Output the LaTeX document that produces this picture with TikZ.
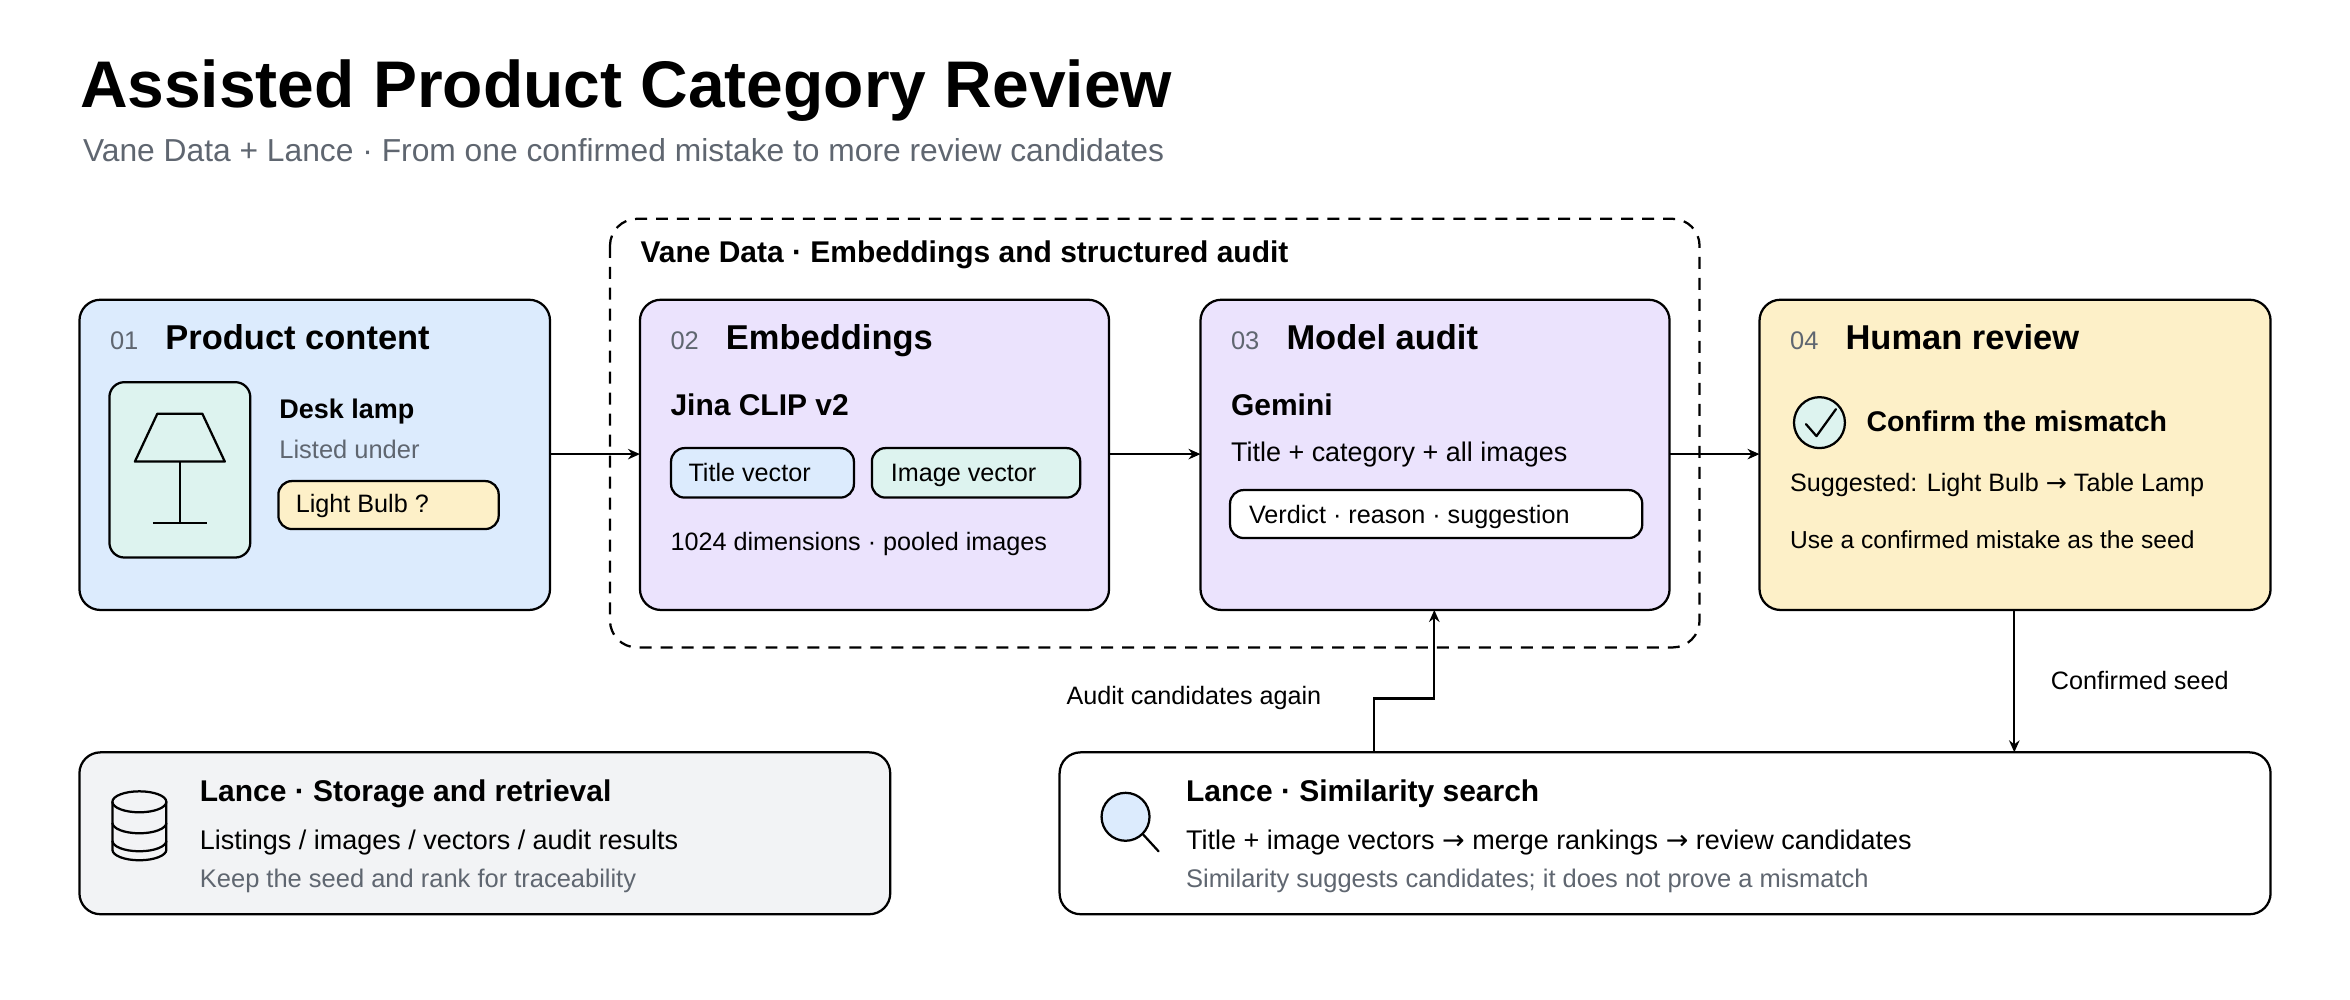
\documentclass[tikz,border=0pt]{standalone}
\usepackage{fontspec}
\setmainfont{Liberation Sans}
\newfontfamily\arrfont{DejaVu Sans}
\usetikzlibrary{arrows.meta}
\definecolor{cblue}{HTML}{DCEBFD}
\definecolor{cpurp}{HTML}{EBE3FD}
\definecolor{cyel}{HTML}{FDF0C8}
\definecolor{cmint}{HTML}{DDF3EF}
\definecolor{cgrayf}{HTML}{F2F3F5}
\definecolor{cgtxt}{HTML}{5F6670}
\newcommand{\fs}[1]{\fontsize{#1}{#1}\selectfont}
\newcommand{\ra}{{\arrfont →}}
\tikzset{
 x=0.5pt,y=-0.5pt,
 box/.style={draw=black,line width=0.75pt,rounded corners=7pt},
 pill/.style={draw=black,line width=0.75pt,rounded corners=4.5pt,inner sep=0pt,anchor=west},
 txt/.style={anchor=base west,inner sep=0pt},
 num/.style={txt,font=\fs{8.5},text=cgtxt},
 head/.style={txt,font=\fs{11.5}\bfseries},
 sub/.style={txt,font=\fs{10}\bfseries},
 body/.style={txt,font=\fs{8.4}},
 gbody/.style={txt,font=\fs{8.5},text=cgtxt},
 arr/.style={line width=0.75pt,-{Stealth[length=4pt,width=3.5pt]}},
 icon/.style={line width=0.75pt}
}
\begin{document}
\begin{tikzpicture}
\useasboundingbox (0,0) rectangle (1568,667);
\node[txt,font=\fs{22}\bfseries] (title) at (53,72) {Assisted Product Category Review};
\node[txt,font=\fs{10.6},text=cgtxt] (subtitle) at (55,108) {Vane Data + Lance · From one confirmed mistake to more review candidates};
% dashed group
\draw[line width=0.75pt,dashed,dash pattern=on 4pt off 3pt,rounded corners=9pt] (407,146) rectangle (1134,432);
\node[txt,font=\fs{10}\bfseries] (grp) at (427,175) {Vane Data · Embeddings and structured audit};
% boxes
\draw[box,fill=cblue] (53,200) rectangle (367,407);
\coordinate (b1e) at (367,303);
\draw[box,fill=cpurp] (427,200) rectangle (740,407);
\coordinate (b2w) at (427,303); \coordinate (b2e) at (740,303);
\draw[box,fill=cpurp] (801,200) rectangle (1114,407);
\coordinate (b3w) at (801,303); \coordinate (b3e) at (1114,303); \coordinate (b3s) at (957,407);
\draw[box,fill=cyel] (1174,200) rectangle (1515,407);
\coordinate (b4w) at (1174,303); \coordinate (b4s) at (1344,407);
% box 1
\node[num] (n1) at (73,233) {01};
\node[head] (h1) at (110,233) {Product content};
\draw[box,rounded corners=5pt,fill=cmint] (73,255) rectangle (167,372);
\draw[icon,line join=round] (105,276) -- (135,276) -- (150,308) -- (90,308) -- cycle;
\draw[icon] (120,308) -- (120,349) (102,349) -- (138,349);
\node[txt,font=\fs{9}\bfseries] (dl) at (186,279) {Desk lamp};
\node[gbody] (lu) at (186,306) {Listed under};
\node[pill,fill=cyel,minimum width=73.5pt,minimum height=16pt] (lb) at (185,337) {};
\node[body] (lbt) at (197,342) {Light Bulb ?};
% box 2
\node[num] (n2) at (447,233) {02};
\node[head] (h2) at (484,233) {Embeddings};
\node[sub] (jc) at (447,277) {Jina CLIP v2};
\node[pill,fill=cblue,minimum width=61pt,minimum height=16.5pt] (tv) at (447,315.5) {};
\node[body] (tvt) at (459,321) {Title vector};
\node[pill,fill=cmint,minimum width=69.5pt,minimum height=16.5pt] (iv) at (581,315.5) {};
\node[body] (ivt) at (594,321) {Image vector};
\node[body] (dim) at (447,367) {1024 dimensions · pooled images};
% box 3
\node[num] (n3) at (821,233) {03};
\node[head] (h3) at (858,233) {Model audit};
\node[sub] (gm) at (821,277) {Gemini};
\node[body,font=\fs{9}] (tc) at (821,308) {Title + category + all images};
\node[pill,fill=white,minimum width=137.5pt,minimum height=16pt] (vp) at (820,343) {};
\node[body] (vpt) at (833,349) {Verdict · reason · suggestion};
% box 4
\node[num] (n4) at (1194,233) {04};
\node[head] (h4) at (1231,233) {Human review};
\draw[icon,fill=cmint] (1214,282) circle (17);
\draw[icon,line cap=round,line join=round] (1205,283) -- (1212,291) -- (1225,273);
\node[txt,font=\fs{9.5}\bfseries] (cm) at (1245,288) {Confirm the mismatch};
\node[body] (sg) at (1194,328) {Suggested: Light Bulb \ra{} Table Lamp};
\node[body,font=\fs{8.2}] (uc) at (1194,366) {Use a confirmed mistake as the seed};
% arrows between boxes
\draw[arr] (b1e) -- (b2w);
\draw[arr] (b2e) -- (b3w);
\draw[arr] (b3e) -- (b4w);
% bottom left
\draw[box,fill=cgrayf] (53,502) rectangle (594,610);
\draw[icon] (75,535) -- (75,567) arc[start angle=180,end angle=360,x radius=18,y radius=-7] -- (111,535);
\draw[icon] (93,535) ellipse [x radius=18,y radius=7];
\draw[icon] (75,549) arc[start angle=180,end angle=360,x radius=18,y radius=-7];
\draw[icon] (75,561) arc[start angle=180,end angle=360,x radius=18,y radius=-7];
\node[sub] (ls) at (133,535) {Lance · Storage and retrieval};
\node[body,font=\fs{9}] (lsb) at (133,567) {Listings / images / vectors / audit results};
\node[gbody] (lsg) at (133,592) {Keep the seed and rank for traceability};
% bottom right
\draw[box,fill=white] (707,502) rectangle (1515,610);
\coordinate (brn) at (1344,502); \coordinate (brs) at (917,502);
\draw[icon,line cap=round] (762,556) -- (773,568);
\draw[icon,fill=cblue] (751,545) circle (16);
\node[sub] (ss) at (791,535) {Lance · Similarity search};
\node[body,font=\fs{9}] (ssb) at (791,567) {Title + image vectors \ra{} merge rankings \ra{} review candidates};
\node[gbody] (ssg) at (791,592) {Similarity suggests candidates; it does not prove a mismatch};
% connectors
\draw[arr] (b4s) -- (brn);
\node[body] (cs) at (1368,460) {Confirmed seed};
\draw[arr] (brs) -- (917,466) -- (957,466) -- (b3s);
\node[body,anchor=base east] (ac) at (882,470) {Audit candidates again};
\end{tikzpicture}
\end{document}
